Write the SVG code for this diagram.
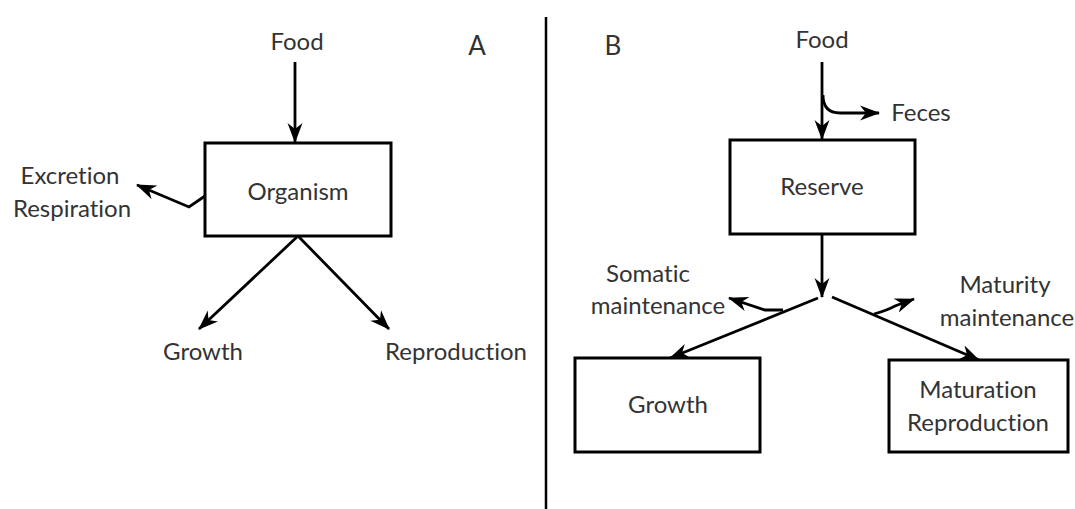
<svg xmlns="http://www.w3.org/2000/svg" width="1075" height="509" viewBox="0 0 1075 509">
  <style>
    .lbl { font-family: Lato, "Open Sans", "Liberation Sans", sans-serif; font-size: 24px; fill: #333; text-anchor: middle; font-variant-ligatures: none; }
    .big { font-size: 26px; }
    .box { fill: #fff; stroke: #000; stroke-width: 3; }
    .edge { fill: none; stroke: #000; stroke-width: 2.8; }
    .arr { marker-end: url(#head); }
  </style>
  <defs>
    <marker id="head" markerWidth="20" markerHeight="18" refX="19" refY="9" orient="auto" markerUnits="userSpaceOnUse">
      <path d="M0,1.5 L20,9 L0,16.5 L6,9 z" fill="#000"/>
    </marker>
  </defs>
  <rect width="1075" height="509" fill="#fff"/>

  <!-- divider between panels -->
  <line x1="546" y1="17" x2="546" y2="509" stroke="#000" stroke-width="2.5"/>

  <!-- panel letters -->
  <text class="lbl big" x="477" y="55">A</text>
  <text class="lbl big" x="613" y="55">B</text>

  <!-- Panel A -->
  <g id="a-food"><text class="lbl" x="297" y="50">Food</text></g>
  <g id="a-organism">
    <rect class="box" x="205" y="143" width="186" height="93"/>
    <text class="lbl" x="298" y="200">Organism</text>
  </g>
  <g id="a-excretion">
    <text class="lbl" x="70" y="184">Excretion</text>
    <text class="lbl" x="72" y="217">Respiration</text>
  </g>
  <g id="a-growth"><text class="lbl" x="203" y="360">Growth</text></g>
  <g id="a-reproduction"><text class="lbl" x="456" y="360">Reproduction</text></g>

  <!-- Panel B -->
  <g id="b-food"><text class="lbl" x="822" y="48">Food</text></g>
  <g id="b-feces"><text class="lbl" x="921" y="121">Feces</text></g>
  <g id="b-reserve">
    <rect class="box" x="730" y="140" width="185" height="94"/>
    <text class="lbl" x="822" y="195">Reserve</text>
  </g>
  <g id="b-somatic">
    <text class="lbl" x="648" y="282">Somatic</text>
    <text class="lbl" x="658" y="314">maintenance</text>
  </g>
  <g id="b-maturity">
    <text class="lbl" x="1005" y="293">Maturity</text>
    <text class="lbl" x="1007" y="326">maintenance</text>
  </g>
  <g id="b-growth">
    <rect class="box" x="575" y="358" width="185" height="94"/>
    <text class="lbl" x="668" y="413">Growth</text>
  </g>
  <g id="b-maturation">
    <rect class="box" x="889" y="360" width="179" height="92"/>
    <text class="lbl" x="978" y="398">Maturation</text>
    <text class="lbl" x="978" y="431">Reproduction</text>
  </g>

  <!-- connectors -->
  <g id="connectors">
    <!-- A -->
    <path class="edge arr" d="M295,62 L295,142"/>
    <path class="edge arr" d="M205,196 L189,207 L137,185"/>
    <path class="edge arr" d="M298,236 L199,329"/>
    <path class="edge arr" d="M298,236 L389,329"/>
    <!-- B -->
    <path class="edge arr" d="M822,62 L822,139"/>
    <path class="edge arr" d="M823,95 Q823,113 840,113 L879,113"/>
    <path class="edge arr" d="M822,234 L822,297"/>
    <path class="edge arr" d="M818,298 L670,358"/>
    <path class="edge arr" d="M832,297 L979,360"/>
    <path class="edge arr" d="M783,310 L765,310 L729,298"/>
    <path class="edge arr" d="M874,314 Q888,310 895,306 L914,299"/>
  </g>
</svg>
